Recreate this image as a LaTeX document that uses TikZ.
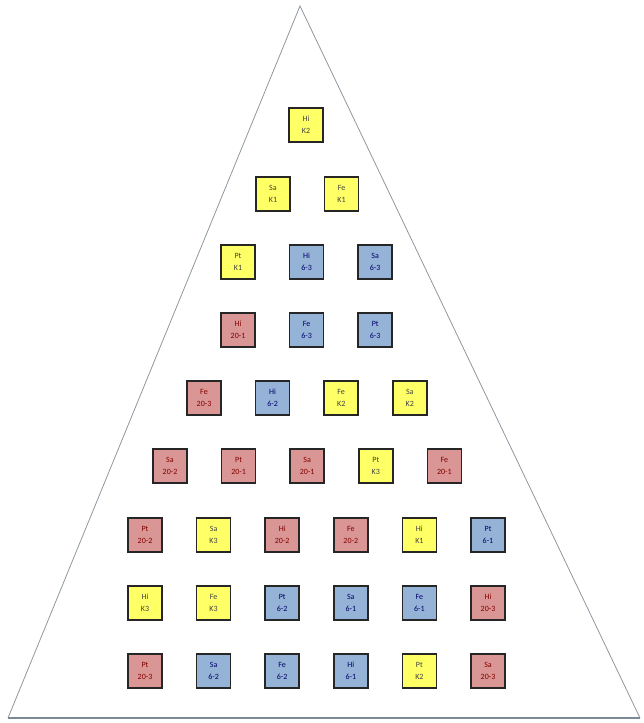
\documentclass[tikz,border=0pt]{standalone}
\usepackage{fontspec}
\setmainfont{Carlito}
\usepackage{xcolor}
\usetikzlibrary{positioning}
\definecolor{kyellow}{HTML}{FFFF66}
\definecolor{sixblue}{HTML}{95B3D7}
\definecolor{twentyred}{HTML}{D99694}
\definecolor{edgegray}{HTML}{8E979F}
\definecolor{basegray}{HTML}{7C8894}
\tikzset{
  tile/.style={draw=black!85, line width=1.6pt, minimum width=34pt, minimum height=34pt, inner sep=0pt, align=center, font=\fontsize{8}{12}\selectfont},
  ktile/.style={tile, fill=kyellow, text=black!75},
  sixtile/.style={tile, fill=sixblue, text=blue!40!black},
  twentytile/.style={tile, fill=twentyred, text=red!50!black},
  side/.style={draw=edgegray, line width=0.8pt},
  base/.style={draw=basegray, line width=1.6pt}
}

\begin{document}
\begin{tikzpicture}[x=1pt, y=-1pt, node distance=33pt]
        \useasboundingbox (0,0) rectangle (643,723);
        % pyramid outline
        \coordinate (apex) at (300,6);
        \coordinate (bl) at (8,718);
        \coordinate (br) at (640,718);
        \draw[side] (bl) -- (apex) -- (br);
        \draw[base] (bl) -- (br);
        % row 1
        \node[ktile] (hiK2) at (306,125) {Hi\\K2};
        % row 2
        \node[ktile] (saK1) at (273,194) {Sa\\K1};
        \node[ktile, right=of saK1] (feK1) {Fe\\K1};
        % row 3
        \node[ktile] (ptK1) at (238,262) {Pt\\K1};
        \node[sixtile, right=of ptK1] (hi63) {Hi\\6-3};
        \node[sixtile, right=of hi63] (sa63) {Sa\\6-3};
        % row 4
        \node[twentytile] (hi201) at (238,330) {Hi\\20-1};
        \node[sixtile, right=of hi201] (fe63) {Fe\\6-3};
        \node[sixtile, right=of fe63] (pt63) {Pt\\6-3};
        % row 5
        \node[twentytile] (fe203) at (204,398) {Fe\\20-3};
        \node[sixtile, right=of fe203] (hi62) {Hi\\6-2};
        \node[ktile, right=of hi62] (feK2) {Fe\\K2};
        \node[ktile, right=of feK2] (saK2) {Sa\\K2};
        % row 6
        \node[twentytile] (sa202) at (170,466) {Sa\\20-2};
        \node[twentytile, right=of sa202] (pt201) {Pt\\20-1};
        \node[twentytile, right=of pt201] (sa201) {Sa\\20-1};
        \node[ktile, right=of sa201] (ptK3) {Pt\\K3};
        \node[twentytile, right=of ptK3] (fe201) {Fe\\20-1};
        % row 7
        \node[twentytile] (pt202) at (145,535) {Pt\\20-2};
        \node[ktile, right=of pt202] (saK3) {Sa\\K3};
        \node[twentytile, right=of saK3] (hi202) {Hi\\20-2};
        \node[twentytile, right=of hi202] (fe202) {Fe\\20-2};
        \node[ktile, right=of fe202] (hiK1) {Hi\\K1};
        \node[sixtile, right=of hiK1] (pt61) {Pt\\6-1};
        % row 8
        \node[ktile] (hiK3) at (145,603) {Hi\\K3};
        \node[ktile, right=of hiK3] (feK3) {Fe\\K3};
        \node[sixtile, right=of feK3] (pt62) {Pt\\6-2};
        \node[sixtile, right=of pt62] (sa61) {Sa\\6-1};
        \node[sixtile, right=of sa61] (fe61) {Fe\\6-1};
        \node[twentytile, right=of fe61] (hi203) {Hi\\20-3};
        % row 9
        \node[twentytile] (pt203) at (145,671) {Pt\\20-3};
        \node[sixtile, right=of pt203] (sa62) {Sa\\6-2};
        \node[sixtile, right=of sa62] (fe62) {Fe\\6-2};
        \node[sixtile, right=of fe62] (hi61) {Hi\\6-1};
        \node[ktile, right=of hi61] (ptK2) {Pt\\K2};
        \node[twentytile, right=of ptK2] (sa203) {Sa\\20-3};
      \end{tikzpicture}
\end{document}
